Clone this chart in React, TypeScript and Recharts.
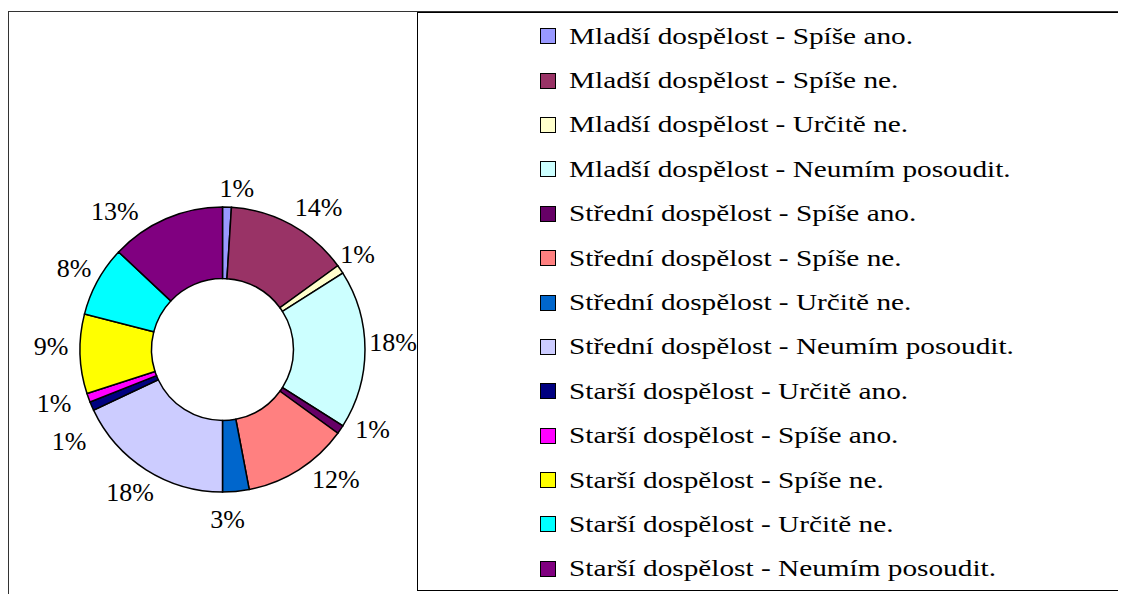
import { PieChart, Pie, Cell, Legend } from "recharts";

const CATEGORIES = [
  "Mladší dospělost - Spíše ano.",
  "Mladší dospělost - Spíše ne.",
  "Mladší dospělost - Určitě ne.",
  "Mladší dospělost - Neumím posoudit.",
  "Střední dospělost - Spíše ano.",
  "Střední dospělost - Spíše ne.",
  "Střední dospělost - Určitě ne.",
  "Střední dospělost - Neumím posoudit.",
  "Starší dospělost - Určitě ano.",
  "Starší dospělost - Spíše ano.",
  "Starší dospělost - Spíše ne.",
  "Starší dospělost - Určitě ne.",
  "Starší dospělost - Neumím posoudit.",
];

const SHARES = [1, 14, 1, 18, 1, 12, 3, 18, 1, 1, 9, 8, 13];

const COLORS = [
  "#9999FF", "#993366", "#FFFFCC", "#CCFFFF", "#660066", "#FF8080", "#0066CC",
  "#CCCCFF", "#000080", "#FF00FF", "#FFFF00", "#00FFFF", "#800080",
];

const data = CATEGORIES.map((name, i) => ({ name, value: SHARES[i], color: COLORS[i] }));

const FONT = "'Liberation Serif', 'Noto Serif', 'DejaVu Serif', 'Times New Roman', Times, serif";
const RADIAN = Math.PI / 180;
// per-label shifts, to sit the labels where the original placed them
const LABEL_NUDGE: Record<number, [number, number]> = {
  0: [9, 9],
  1: [14, 7],
  2: [-6, 1],
  3: [0, -7],
  4: [9, -16],
  5: [22, -14],
  6: [-11, 0],
  7: [-1, -1],
  8: [3, 24],
  9: [-8, -4],
  10: [-1, -8],
  11: [1, 1],
  12: [-40, 18],
};

function renderLabel(props: any) {
  const { cx, cy, midAngle, outerRadius, percent, index } = props;
  const r = outerRadius + 28;
  const [dx, dy] = LABEL_NUDGE[index] ?? [0, 0];
  const x = cx + r * Math.cos(-midAngle * RADIAN) + dx;
  const y = cy + r * Math.sin(-midAngle * RADIAN) + dy;
  return (
    <text x={x} y={y} textAnchor="middle" dominantBaseline="central" style={{ fontFamily: FONT }} fontSize={26} fill="#000">
      {`${Math.round(percent * 100)}%`}
    </text>
  );
}

// legend keeps the series order of the data (recharts would sort it by name)
function LegendBox() {
  return (
    <div style={{ border: "1.5px solid #000", boxSizing: "border-box", width: 740, height: 579, paddingTop: 1 }}>
      {data.map((d) => (
        <div key={d.name} style={{ display: "flex", alignItems: "center", height: 44.4, paddingLeft: 122 }}>
          <span style={{ width: 14, height: 14, border: "1.5px solid #000", background: d.color, marginRight: 13, flex: "none" }} />
          <span
            style={{
              fontFamily: FONT,
              fontSize: 24,
              color: "#000",
              whiteSpace: "nowrap",
              display: "inline-block",
              transform: "scaleX(1.22)",
              transformOrigin: "left center",
            }}
          >
            {d.name}
          </span>
        </div>
      ))}
    </div>
  );
}

export default function App() {
  return (
    <>
      <style>{"body{overflow:hidden}"}</style>
      <div
        style={{
          position: "relative",
          top: 3,
          width: 1130,
          height: 590,
          overflow: "hidden",
          borderLeft: "1.5px solid #333",
          borderTop: "1.5px solid #333",
        }}
      >
        <PieChart width={1130} height={590}>
          <Pie
            data={data}
            dataKey="value"
            nameKey="name"
            cx={208.5}
            cy={332.5}
            innerRadius={71}
            outerRadius={142.5}
            startAngle={90}
            endAngle={-270}
            stroke="#000"
            strokeWidth={1.5}
            label={renderLabel}
            labelLine={false}
            isAnimationActive={false}
          >
            {data.map((d) => (
              <Cell key={d.name} fill={d.color} />
            ))}
          </Pie>
          <Legend
            layout="vertical"
            align="right"
            verticalAlign="middle"
            content={<LegendBox />}
            wrapperStyle={{ left: 408, top: 0, width: 740, height: 579 }}
          />
        </PieChart>
      </div>
    </>
  );
}
